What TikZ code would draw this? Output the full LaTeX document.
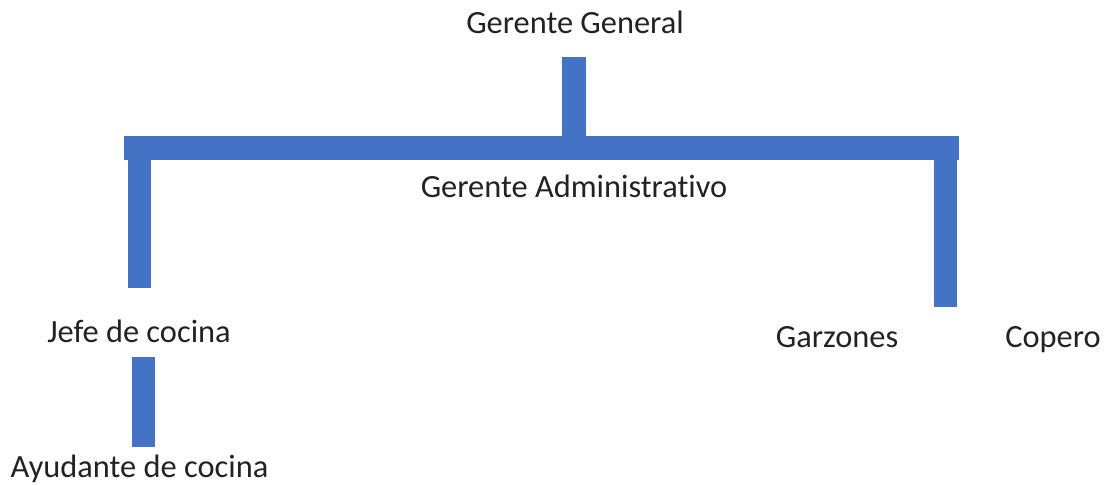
\documentclass[tikz,border=0pt]{standalone}
\usepackage{fontspec}
\setmainfont[Ligatures=NoCommon]{Carlito}
\definecolor{barblue}{HTML}{4472C4}
\definecolor{txt}{HTML}{222222}
\begin{document}
\begin{tikzpicture}[x=1pt,y=-1pt,
  bar/.style={fill=barblue,draw=none},
  lbl/.style={anchor=base,inner sep=0pt,text=txt,font=\fontsize{32.4}{38}\selectfont}]
\useasboundingbox (0,0) rectangle (1107,484);
\node[lbl] (gg) at (575,34) {Gerente General};
\node[lbl] (ga) at (574,197) {Gerente Administrativo};
\node[lbl] (jc) at (139,342) {Jefe de cocina};
\node[lbl] (ac) at (139.5,477) {Ayudante de cocina};
\node[lbl] (gz) at (837,347) {Garzones};
\node[lbl] (cp) at (1053,347) {Copero};
\fill[bar] (562,57) rectangle (586,136);
\fill[bar] (124,136) rectangle (959,160);
\fill[bar] (128,159) rectangle (151,288);
\fill[bar] (934,159) rectangle (957,307);
\fill[bar] (132,357) rectangle (155,447);
\end{tikzpicture}
\end{document}
